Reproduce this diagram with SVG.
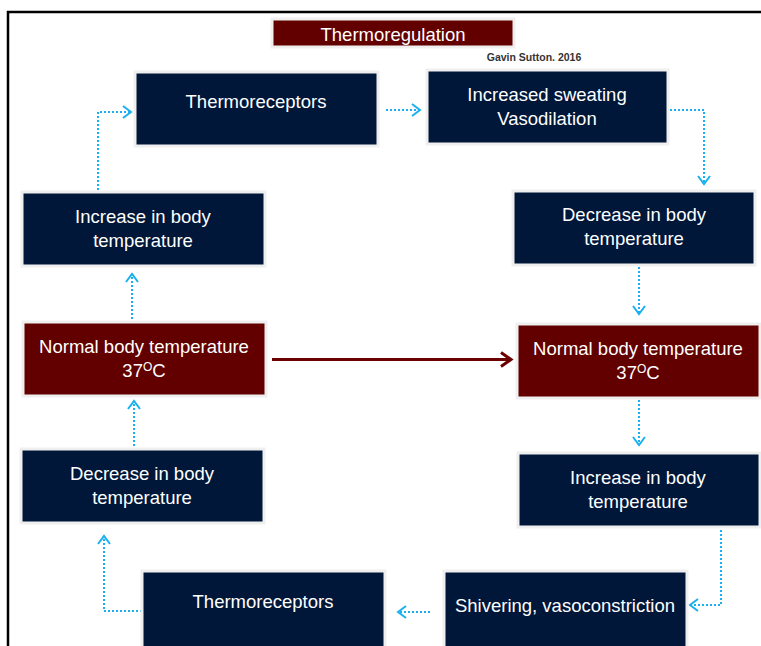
<svg xmlns="http://www.w3.org/2000/svg" width="761" height="646" viewBox="0 0 761 646">
<style>
.navy{fill:#00173a;stroke:#efefef;stroke-width:3}
.red{fill:#620000;stroke:#efefef;stroke-width:3}
.t{font-family:"Liberation Sans",Arial,sans-serif;font-size:18.5px;fill:#ffffff;text-anchor:middle}
.dot{fill:none;stroke:#1ab0ef;stroke-width:2;stroke-dasharray:2 2}
.sup{font-size:12px}
</style>
<defs>
<marker id="ab" markerUnits="userSpaceOnUse" markerWidth="12" markerHeight="14" refX="8" refY="6" orient="auto" overflow="visible">
<path d="M0,0 L8,6 L0,12" fill="none" stroke="#1ab0ef" stroke-width="2"/>
</marker>
<marker id="ar" markerUnits="userSpaceOnUse" markerWidth="14" markerHeight="16" refX="10" refY="7" orient="auto" overflow="visible">
<path d="M0,0 L10,7 L0,14" fill="none" stroke="#6b0000" stroke-width="3"/>
</marker>
</defs>
<rect width="761" height="646" fill="#ffffff"/>
<path d="M8,646 V12 H761" fill="none" stroke="#000000" stroke-width="2.5"/>

<g id="title">
<rect class="red" x="272" y="19" width="242" height="28"/>
<text class="t" x="393" y="40.5">Thermoregulation</text>
</g>
<g id="credit">
<text x="534" y="61" style="font-family:'Liberation Sans',Arial,sans-serif;font-size:10.5px;font-weight:bold;fill:#333333;text-anchor:middle">Gavin Sutton. 2016</text>
</g>

<g id="connectors">
<path class="dot" d="M98,190 V112 H131" marker-end="url(#ab)"/>
<path class="dot" d="M386,110 H420" marker-end="url(#ab)"/>
<path class="dot" d="M670,110 H704 V184" marker-end="url(#ab)"/>
<path class="dot" d="M639,267 V314" marker-end="url(#ab)"/>
<path class="dot" d="M639,400 V445" marker-end="url(#ab)"/>
<path class="dot" d="M721,530 V605 H690" marker-end="url(#ab)"/>
<path class="dot" d="M430,612 H398" marker-end="url(#ab)"/>
<path class="dot" d="M142,611 H104 V536" marker-end="url(#ab)"/>
<path class="dot" d="M134,446 V401" marker-end="url(#ab)"/>
<path class="dot" d="M132,319 V274" marker-end="url(#ab)"/>
<path d="M272,359.5 H511" fill="none" stroke="#6b0000" stroke-width="3" marker-end="url(#ar)"/>
</g>

<g id="thermo-top">
<rect class="navy" x="135" y="72" width="243" height="74"/>
<text class="t" x="256" y="108">Thermoreceptors</text>
</g>
<g id="sweating">
<rect class="navy" x="427" y="70" width="241" height="74"/>
<text class="t" x="547" y="101">Increased sweating</text>
<text class="t" x="547" y="125">Vasodilation</text>
</g>
<g id="decrease-right">
<rect class="navy" x="513" y="191" width="242" height="74"/>
<text class="t" x="634" y="221">Decrease in body</text>
<text class="t" x="634" y="245">temperature</text>
</g>
<g id="normal-right">
<rect class="red" x="517" y="324" width="243" height="74"/>
<text class="t" x="638" y="355">Normal body temperature</text>
<text class="t" x="638" y="379">37<tspan class="sup" dy="-6">O</tspan><tspan dy="6">C</tspan></text>
</g>
<g id="increase-right">
<rect class="navy" x="518" y="453" width="242" height="74"/>
<text class="t" x="638" y="484">Increase in body</text>
<text class="t" x="638" y="508">temperature</text>
</g>
<g id="shivering">
<rect class="navy" x="444" y="571" width="243" height="80"/>
<text class="t" x="565" y="612">Shivering, vasoconstriction</text>
</g>
<g id="thermo-bottom">
<rect class="navy" x="142" y="571" width="243" height="80"/>
<text class="t" x="263" y="608">Thermoreceptors</text>
</g>
<g id="decrease-left">
<rect class="navy" x="21" y="449" width="243" height="74"/>
<text class="t" x="142" y="480">Decrease in body</text>
<text class="t" x="142" y="504">temperature</text>
</g>
<g id="normal-left">
<rect class="red" x="23" y="322" width="243" height="74"/>
<text class="t" x="144" y="353">Normal body temperature</text>
<text class="t" x="144" y="377">37<tspan class="sup" dy="-6">O</tspan><tspan dy="6">C</tspan></text>
</g>
<g id="increase-left">
<rect class="navy" x="22" y="192" width="243" height="74"/>
<text class="t" x="143" y="223">Increase in body</text>
<text class="t" x="143" y="247">temperature</text>
</g>
</svg>
